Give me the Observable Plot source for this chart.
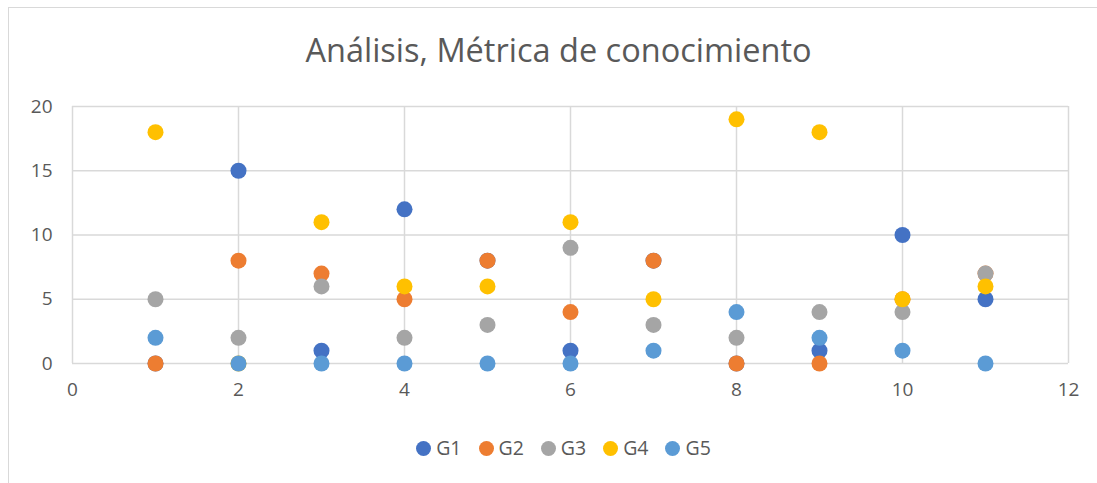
<!DOCTYPE html>
<html>
<head>
<meta charset="utf-8">
<script src="https://cdn.jsdelivr.net/npm/d3@7"></script>
<script src="https://cdn.jsdelivr.net/npm/@observablehq/plot@0.6"></script>
<style>
  html, body { margin: 0; padding: 0; background: #fff; }
  #wrap { position: relative; width: 1097px; height: 483px; overflow: hidden; font-family: "Open Sans", "Liberation Sans", sans-serif; color: #595959; }
  #frame { position: absolute; left: 8px; top: 7px; width: 1200px; height: 600px; border-left: 1.5px solid #d9d9d9; border-top: 1.5px solid #d9d9d9; }
  #title { position: absolute; left: 10px; width: 1097px; top: 28px; text-align: center; font-size: 32.5px; line-height: 44px; color: #595959; }
  #chart { position: absolute; left: 0; top: 90px; }
  #legend { position: absolute; left: 15px; width: 1097px; top: 434px; display: flex; justify-content: center; gap: 17px; font-size: 19.5px; line-height: 28px; }
  .item { display: flex; align-items: center; gap: 5px; }
  .dot { width: 15px; height: 15px; border-radius: 50%; display: inline-block; }
</style>
</head>
<body>
<div id="wrap">
  <div id="frame"></div>
  <div id="title">Análisis, Métrica de conocimiento</div>
  <div id="chart"></div>
  <div id="legend"></div>
</div>
<script>
const xs = [1, 2, 3, 4, 5, 6, 7, 8, 9, 10, 11];
const G1 = [0, 15, 1, 12, 8, 1, 8, 0, 1, 10, 5];
const G2 = [0, 8, 7, 5, 8, 4, 8, 0, 0, 5, 7];
const G3 = [5, 2, 6, 2, 3, 9, 3, 2, 4, 4, 7];
const G4 = [18, 0, 11, 6, 6, 11, 5, 19, 18, 5, 6];
const G5 = [2, 0, 0, 0, 0, 0, 1, 4, 2, 1, 0];
const seriesNames = ["G1", "G2", "G3", "G4", "G5"];
const seriesColors = ["#4472C4", "#ED7D31", "#A5A5A5", "#FFC000", "#5B9BD5"];
const xTicks = [0, 2, 4, 6, 8, 10, 12];
const yTicks = [0, 5, 10, 15, 20];

const seriesValues = [G1, G2, G3, G4, G5];
const data = [];
seriesNames.forEach((name, i) => {
  xs.forEach((x, j) => data.push({ series: name, x, y: seriesValues[i][j] }));
});

const chart = Plot.plot({
  width: 1097,
  height: 330,
  marginLeft: 72,
  marginRight: 29,
  marginTop: 16,
  marginBottom: 57,
  style: { fontFamily: "'Open Sans', 'Liberation Sans', sans-serif", fontSize: "19px", color: "#595959", background: "transparent", overflow: "visible" },
  x: { domain: [0, 12], label: null },
  y: { domain: [0, 20], label: null },
  color: { domain: seriesNames, range: seriesColors },
  marks: [
    Plot.ruleY(yTicks, { stroke: "#d9d9d9", strokeWidth: 1.5 }),
    Plot.ruleX(xTicks, { stroke: "#d9d9d9", strokeWidth: 1.5 }),
    Plot.axisX({ ticks: xTicks, tickSize: 0, tickPadding: 19, fill: "#595959", fontSize: 19, label: null, tickFormat: d => String(d) }),
    Plot.axisY({ ticks: yTicks, tickSize: 0, tickPadding: 20, fill: "#595959", fontSize: 19, label: null, tickFormat: d => String(d) }),
    Plot.dot(data, { x: "x", y: "y", fill: "series", r: 8, stroke: "none" })
  ]
});
document.getElementById("chart").appendChild(chart);

const legend = document.getElementById("legend");
seriesNames.forEach((name, i) => {
  const item = document.createElement("span");
  item.className = "item";
  const dot = document.createElement("span");
  dot.className = "dot";
  dot.style.background = seriesColors[i];
  const label = document.createElement("span");
  label.textContent = name;
  item.appendChild(dot);
  item.appendChild(label);
  legend.appendChild(item);
});
</script>
</body>
</html>
